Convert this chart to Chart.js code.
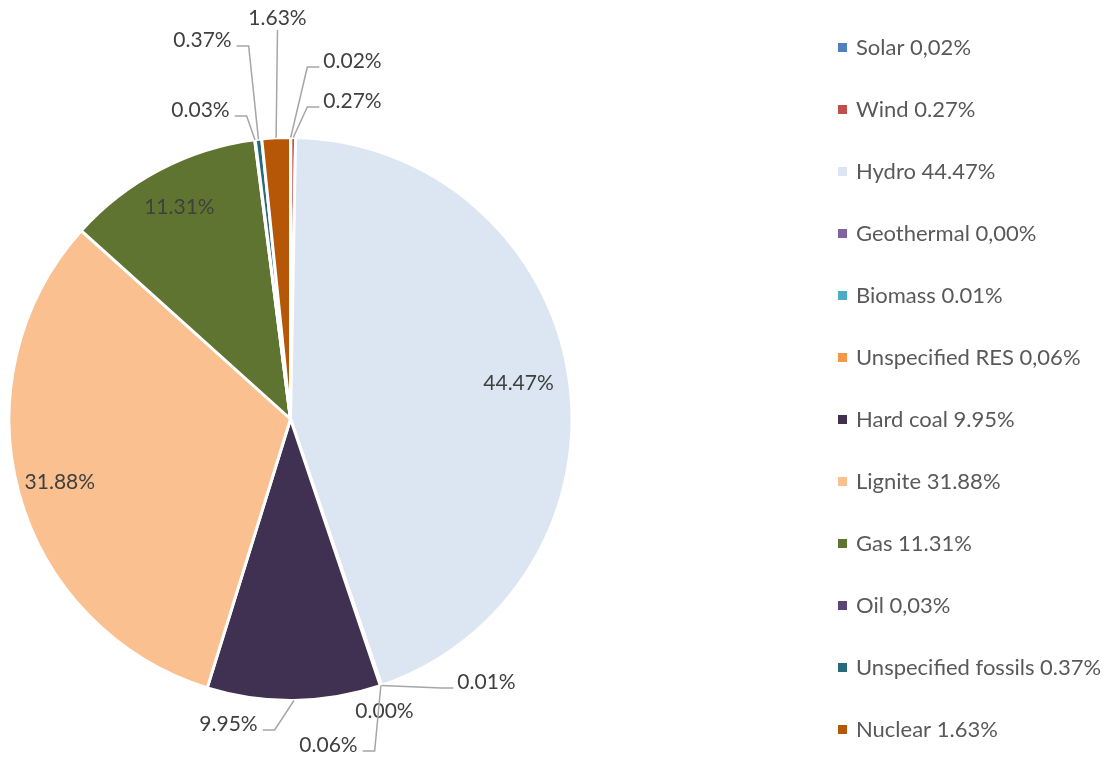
<!DOCTYPE html>
<html>
<head>
<meta charset="utf-8">
<script src="https://cdn.jsdelivr.net/npm/chart.js@4.4.1/dist/chart.umd.min.js"></script>
<style>
  html, body { margin: 0; padding: 0; background: #fff; }
  #wrap { position: relative; width: 1109px; height: 758px; }
</style>
</head>
<body>
<div id="wrap"><canvas id="mix-chart" width="1109" height="758"></canvas></div>
<script>
// Fuel mix shares (%), in drawing order (clockwise from 12 o'clock)
const categories = ['Solar', 'Wind', 'Hydro', 'Geothermal', 'Biomass', 'Unspecified RES',
    'Hard coal', 'Lignite', 'Gas', 'Oil', 'Unspecified fossils', 'Nuclear'];
const shares = [0.02, 0.27, 44.47, 0.00, 0.01, 0.06, 9.95, 31.88, 11.31, 0.03, 0.37, 1.63];
// legend texts as printed in the original (mixed decimal separators)
const legendTexts = ['Solar 0,02%', 'Wind 0.27%', 'Hydro 44.47%', 'Geothermal 0,00%', 'Biomass 0.01%',
    'Unspecified RES 0,06%', 'Hard coal 9.95%', 'Lignite 31.88%', 'Gas 11.31%', 'Oil 0,03%',
    'Unspecified fossils 0.37%', 'Nuclear 1.63%'];
const sliceColors = ['#4f81bd', '#c0504d', '#dce6f2', '#8064a2', '#4bacc6', '#f79646',
    '#403152', '#fac090', '#607431', '#5b4476', '#276a7c', '#b65708'];

// where each value label sits: inside the slice (fraction of radius),
// or offset of the text centre from the pie centre + side the leader line joins
const labelPlacement = [
    { dx: 62, dy: -358, leader: 'left' },
    { dx: 62, dy: -318, leader: 'left' },
    { inside: 0.82 },
    { dx: 94, dy: 292, leader: 'none' },
    { dx: 196, dy: 263, leader: 'left' },
    { dx: 38, dy: 326, leader: 'right' },
    { dx: -62, dy: 305, leader: 'right' },
    { inside: 0.85 },
    { inside: 0.85 },
    { dx: -90, dy: -309, leader: 'right' },
    { dx: -88, dy: -379, leader: 'right' },
    { dx: -13, dy: -401, leader: 'below' }
];

const FONT_FAMILY = 'Lato, "Open Sans", sans-serif';
const LABEL_FONT = '21px ' + FONT_FAMILY;
const LEGEND_FONT = '22px ' + FONT_FAMILY;

const valueLabels = {
    id: 'valueLabels',
    afterDatasetsDraw(chart) {
        const ctx = chart.ctx;
        const meta = chart.getDatasetMeta(0);
        ctx.save();
        ctx.font = LABEL_FONT;
        ctx.textAlign = 'center';
        ctx.textBaseline = 'middle';
        meta.data.forEach((arc, i) => {
            const p = labelPlacement[i];
            const text = shares[i].toFixed(2) + '%';
            const { x, y, startAngle, endAngle, outerRadius } =
                arc.getProps(['x', 'y', 'startAngle', 'endAngle', 'outerRadius'], true);
            const mid = (startAngle + endAngle) / 2;
            if (p.inside) {
                ctx.fillStyle = '#404040';
                ctx.fillText(text, x + Math.cos(mid) * outerRadius * p.inside,
                    y + Math.sin(mid) * outerRadius * p.inside);
                return;
            }
            const tx = x + p.dx, ty = y + p.dy;
            const w = ctx.measureText(text).width;
            const ax = x + Math.cos(mid) * outerRadius, ay = y + Math.sin(mid) * outerRadius;
            let pts = null;
            if (p.leader === 'left') {
                const ex = tx - w / 2 - 4, ey = ty + 6;
                pts = [[ax, ay], [ex - 12, ey], [ex, ey]];
            } else if (p.leader === 'right') {
                const ex = tx + w / 2 + 5, ey = ty + 6;
                pts = [[ax, ay], [ex + 12, ey], [ex, ey]];
            } else if (p.leader === 'below') {
                pts = [[ax, ay], [tx, ty + 12]];
            }
            if (pts) {
                ctx.strokeStyle = '#a6a6a6';
                ctx.lineWidth = 1.5;
                ctx.beginPath();
                ctx.moveTo(pts[0][0], pts[0][1]);
                pts.slice(1).forEach(pt => ctx.lineTo(pt[0], pt[1]));
                ctx.stroke();
            }
            ctx.fillStyle = '#404040';
            ctx.fillText(text, tx, ty);
        });
        ctx.restore();
    }
};

// legend on the right: small squares, one row every 62px
const sideLegend = {
    id: 'sideLegend',
    afterDraw(chart) {
        const ctx = chart.ctx;
        ctx.save();
        ctx.font = LEGEND_FONT;
        ctx.textBaseline = 'middle';
        ctx.textAlign = 'left';
        legendTexts.forEach((t, i) => {
            const cy = 47.5 + i * 62;
            ctx.fillStyle = sliceColors[i];
            ctx.fillRect(838, cy - 4.5, 9, 9);
            ctx.fillStyle = '#595959';
            ctx.fillText(t, 856, cy);
        });
        ctx.restore();
    }
};

const ctx = document.getElementById('mix-chart').getContext('2d');
new Chart(ctx, {
    type: 'pie',
    data: {
        labels: categories,
        datasets: [{
            data: shares,
            backgroundColor: sliceColors,
            borderColor: '#ffffff',
            borderWidth: 3
        }]
    },
    options: {
        responsive: false,
        animation: false,
        devicePixelRatio: 1,
        layout: { padding: { left: 7, right: 535, top: 136, bottom: 56 } },
        plugins: {
            legend: { display: false },
            tooltip: { enabled: false }
        }
    },
    plugins: [valueLabels, sideLegend]
});
</script>
</body>
</html>
